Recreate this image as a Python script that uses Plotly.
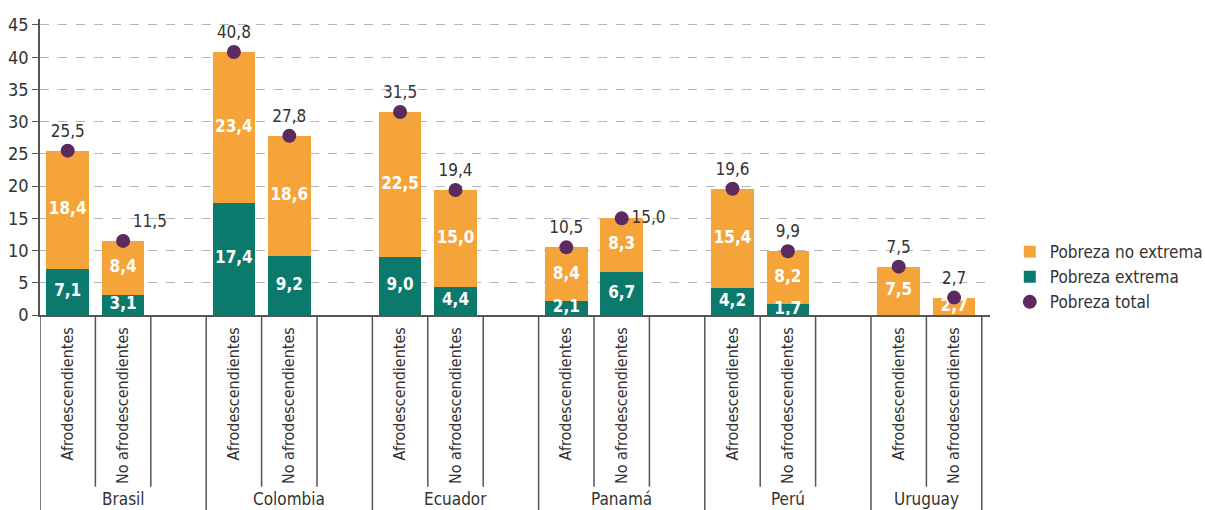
import numpy as np
import plotly.graph_objects as go

countries = ["Brasil", "Colombia", "Ecuador", "Panamá", "Perú", "Uruguay"]
groups = ["Afrodescendientes", "No afrodescendientes"]

# values per bar, in order: country x group
pobreza_extrema = [7.1, 3.1, 17.4, 9.2, 9.0, 4.4, 2.1, 6.7, 4.2, 1.7, 0.0, 0.0]
pobreza_no_extrema = [18.4, 8.4, 23.4, 18.6, 22.5, 15.0, 8.4, 8.3, 15.4, 8.2, 7.5, 2.7]
pobreza_total = [25.5, 11.5, 40.8, 27.8, 31.5, 19.4, 10.5, 15.0, 19.6, 9.9, 7.5, 2.7]

C_NOEXT = "#F5A43A"
C_EXT = "#0B7A6C"
C_TOT = "#5B2A5E"
AXIS_C = "#555555"
FONT = "DejaVu Sans Condensed, Liberation Sans Narrow, sans-serif"

xpos = []
for i in range(len(countries)):
    xpos += [3 * i + 0.5, 3 * i + 1.5]
xpos = np.array(xpos)
tick_text = groups * len(countries)

ext = np.array(pobreza_extrema)
noext = np.array(pobreza_no_extrema)
tot = np.array(pobreza_total)

def fmt(v):
    return f"{v:.1f}".replace(".", ",")

fig = go.Figure()
fig.add_trace(go.Bar(x=xpos, y=ext, width=0.77, marker=dict(color=C_EXT, line=dict(width=0)),
                     name="Pobreza extrema", legendrank=2, legendgroup="b", hoverinfo="skip"))
fig.add_trace(go.Bar(x=xpos, y=noext, width=0.77, marker=dict(color=C_NOEXT, line=dict(width=0)),
                     name="Pobreza no extrema", legendrank=1, legendgroup="a", hoverinfo="skip"))

fig.add_trace(go.Scatter(x=xpos, y=ext / 2, mode="text",
                         text=[fmt(v) if v > 0 else "" for v in ext],
                         textfont=dict(color="white", size=17, family=FONT, weight="bold"),
                         showlegend=False, hoverinfo="skip", cliponaxis=False))
fig.add_trace(go.Scatter(x=xpos, y=ext + noext / 2, mode="text",
                         text=[fmt(v) for v in noext],
                         textfont=dict(color="white", size=17, family=FONT, weight="bold"),
                         showlegend=False, hoverinfo="skip", cliponaxis=False))

tpos = ["top center"] * len(tot)
tpos[1] = "top right"
tpos[7] = "middle right"
fig.add_trace(go.Scatter(x=xpos, y=tot, mode="markers+text",
                         marker=dict(color=C_TOT, size=14),
                         text=[fmt(v) for v in tot], textposition=tpos,
                         textfont=dict(color="#333333", size=17, family=FONT),
                         name="Pobreza total", legendrank=3, legendgroup="c",
                         hoverinfo="skip", cliponaxis=False))

shapes = []
n_slots = 3 * len(countries) - 1
for s in range(n_slots + 1):
    long_line = (s % 3 == 0) or s == n_slots
    shapes.append(dict(type="line", xref="x", yref="paper", x0=s, x1=s, y0=0,
                       y1=-0.7 if long_line else -0.58,
                       line=dict(color=AXIS_C, width=1.5)))

annotations = []
for i, c in enumerate(countries):
    start = 3 * i
    end = min(3 * i + 3, n_slots)
    annotations.append(dict(x=(start + end) / 2, y=-0.622, xref="x", yref="paper",
                            text=c, showarrow=False, yanchor="middle",
                            font=dict(size=17, color="#333333", family=FONT)))

fig.update_layout(
    barmode="stack",
    width=1205, height=510,
    margin=dict(l=40, r=215, t=19, b=195, autoexpand=False),
    plot_bgcolor="white", paper_bgcolor="white",
    font=dict(family=FONT, color="#333333"),
    shapes=shapes, annotations=annotations,
    legend=dict(xref="container", yref="container", x=0.838, y=0.541,
                xanchor="left", yanchor="top", traceorder="normal",
                font=dict(size=17, color="#333333", family=FONT),
                bgcolor="rgba(0,0,0,0)", tracegroupgap=7),
    showlegend=True,
)
fig.update_xaxes(range=[0, 17.148], tickvals=xpos, ticktext=tick_text, tickangle=-90,
                 automargin=False,
                 showline=True, linecolor=AXIS_C, linewidth=1.5, showgrid=False, zeroline=False,
                 ticks="outside", ticklen=4, tickcolor="rgba(0,0,0,0)",
                 tickfont=dict(size=16, color="#333333", family=FONT))
fig.update_yaxes(range=[0, 45.93], tickvals=list(range(0, 50, 5)), automargin=False,
                 showline=True, linecolor=AXIS_C, linewidth=1.5, zeroline=False,
                 showgrid=True, gridcolor="#B5B5B5", griddash="dash", gridwidth=1,
                 ticks="outside", ticklen=6, tickcolor=AXIS_C,
                 tickfont=dict(size=18, color="#333333", family=FONT))

fig.write_html("out.html", config={"displayModeBar": False},
               post_script="document.body.style.margin='0';")
